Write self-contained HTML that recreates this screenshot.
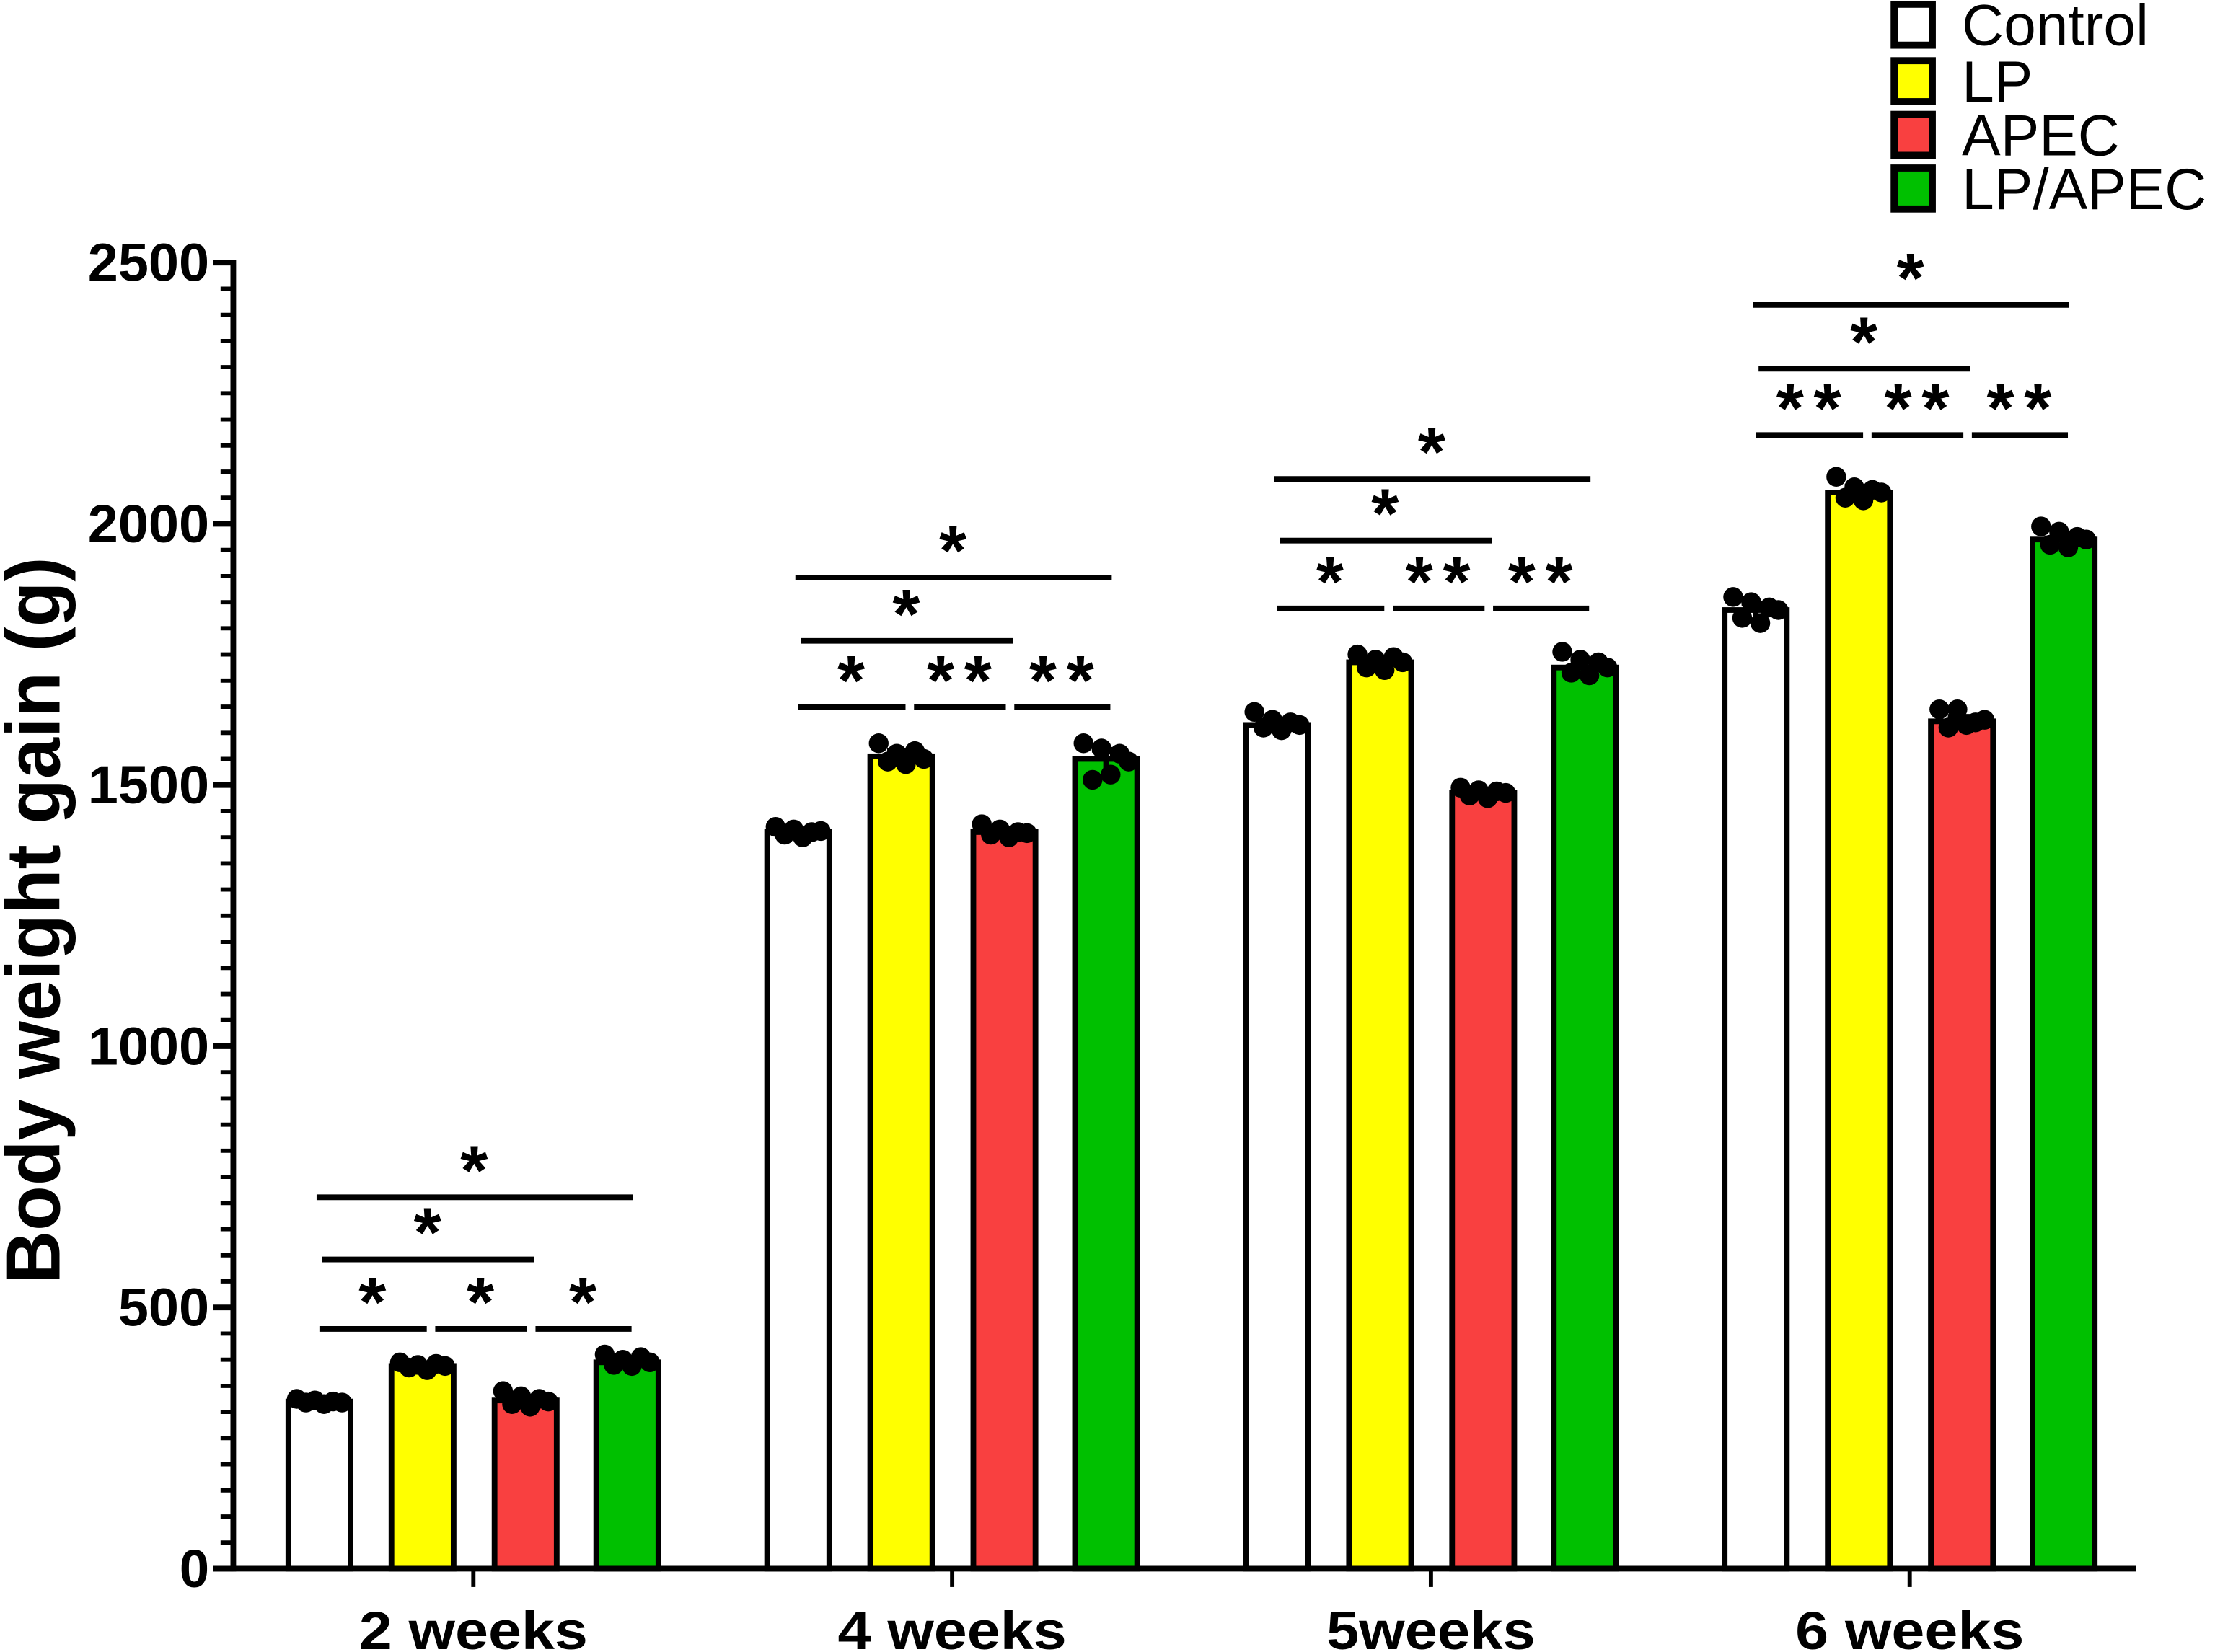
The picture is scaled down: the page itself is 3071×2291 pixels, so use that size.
<!DOCTYPE html>
<html><head><meta charset="utf-8"><style>
html,body{margin:0;padding:0;background:#fff;}
svg{display:block;}
text{font-family:"Liberation Sans",sans-serif;}
</style></head><body>
<svg id="chart" width="3071" height="2291" viewBox="0 0 1568 1170" xmlns="http://www.w3.org/2000/svg"></svg>
<script>
const categories = ["2 weeks","4 weeks","5weeks","6 weeks"];
const seriesNames = ["Control","LP","APEC","LP/APEC"];
const seriesColors = ["#ffffff","#ffff00","#f94040","#00c000"];
const controlVals = [320, 1410, 1615, 1835];
const lpVals = [388, 1555, 1735, 2060];
const apecVals = [322, 1410, 1485, 1622];
const lpapecVals = [395, 1550, 1725, 1970];
const controlPts = [[325,318,322,315,320,318],[1420,1405,1415,1400,1410,1412],[1640,1610,1625,1605,1620,1615],[1860,1820,1850,1810,1840,1835]];
const lpPts = [[395,385,390,380,392,388],[1580,1545,1560,1540,1565,1550],[1750,1725,1740,1720,1745,1735],[2090,2050,2070,2045,2065,2060]];
const apecPts = [[340,315,330,310,325,320],[1425,1405,1415,1400,1410,1408],[1495,1480,1490,1475,1488,1485],[1645,1610,1645,1615,1620,1625]];
const lpapecPts = [[410,390,400,388,405,395],[1580,1510,1570,1520,1560,1545],[1755,1715,1740,1710,1735,1725],[1995,1960,1985,1955,1975,1970]];
const yTicks = [0,500,1000,1500,2000,2500];
const sigLabels = [["*","*","*","*","*"],["*","**","**","*","*"],["*","**","**","*","*"],["**","**","**","*","*"]];
const sigLevels = [[459,592,711],[1649,1776,1897],[1838,1968,2086],[2170,2297,2419]];

const NS="http://www.w3.org/2000/svg";
const svg=document.getElementById('chart');
const X0=165, X1=1512, Y0=1111, YT=186, VMAX=2500;
const y=v=>Y0-v*(Y0-YT)/VMAX;
const groupX=i=>335+i*339;
const barOff=[-109,-36,37,109];
const BW=44;
function el(tag,attrs,parent){const e=document.createElementNS(NS,tag);for(const k in attrs)e.setAttribute(k,attrs[k]);(parent||svg).appendChild(e);return e;}
const allVals=[controlVals,lpVals,apecVals,lpapecVals];
const allPts=[controlPts,lpPts,apecPts,lpapecPts];

categories.forEach((c,gi)=>{
  allVals.forEach((vals,si)=>{
    const cx=groupX(gi)+barOff[si];
    const b=el('rect',{x:cx-BW/2,y:y(vals[gi]),width:BW,height:Y0-y(vals[gi]),fill:seriesColors[si],stroke:'#000','stroke-width':4});
    
    
    const pts=allPts[si][gi];
    const sd=(Math.max(...pts)-Math.min(...pts))/4;
    const eb=el('path',{d:`M${cx} ${y(vals[gi]+sd)}V${y(vals[gi]-sd)}M${cx-10} ${y(vals[gi]+sd)}H${cx+10}`,stroke:'#000','stroke-width':4,fill:'none'});
    
    
    pts.forEach((p,pi)=>{
      const d=el('circle',{cx:cx-16+pi*6.4,cy:y(p),r:7,fill:'#000'});
      
      
    });
  });
});

const ya=el('path',{d:`M${X0} ${YT-2}V${Y0+2}`,stroke:'#000','stroke-width':4});


const xa=el('path',{d:`M${X0-14} ${Y0}H${X1}`,stroke:'#000','stroke-width':4});


for(let v=0;v<=VMAX;v+=50){
  const major=v%500===0;
  const t=el('path',{d:`M${major?X0-14:X0-9} ${y(v)}H${X0}`,stroke:'#000','stroke-width':major?4:3});
  
  
}
yTicks.forEach(v=>{
  const t=el('text',{x:148,y:y(v)+13,'text-anchor':'end','font-size':38,'font-weight':'bold'});
  if(v>0){t.setAttribute('textLength',String(v).length*21.5);t.setAttribute('lengthAdjust','spacingAndGlyphs');}
  t.textContent=v;
  
  
});
categories.forEach((c,gi)=>{
  const t=el('path',{d:`M${groupX(gi)} ${Y0}V${Y0+13}`,stroke:'#000','stroke-width':3});
  
  
  const l=el('text',{x:groupX(gi),y:1168,'text-anchor':'middle','font-size':38,'font-weight':'bold',textLength:c==='5weeks'?148:162,lengthAdjust:'spacingAndGlyphs'});
  l.textContent=c;
  
  
});
const yt=el('text',{x:0,y:0,transform:'translate(42 652) rotate(-90)','text-anchor':'middle','font-size':54,'font-weight':'bold',textLength:515,lengthAdjust:'spacingAndGlyphs'});
yt.textContent='Body weight gain (g)';



categories.forEach((c,gi)=>{
  const g=groupX(gi);
  const L=sigLevels[gi];
  const segs=[[barOff[0],barOff[1]+3,0],[barOff[1]+9,barOff[2]+1,0],[barOff[2]+7,barOff[3]+3,0],[barOff[0]+2,barOff[2]+6,1],[barOff[0]-2,barOff[3]+4,2]];
  segs.forEach((s,k)=>{
    const ly=y(L[s[2]]);
    const ln=el('path',{d:`M${g+s[0]} ${ly}H${g+s[1]}`,stroke:'#000','stroke-width':4});
    
    
    const st=el('text',{x:g+(s[0]+s[1])/2+3,y:ly-2,'text-anchor':'middle','font-size':50,'font-weight':'bold','letter-spacing':7});
    st.textContent=sigLabels[gi][k];
    
    
  });
});

const legY=[18,58,96,134];
seriesNames.forEach((n,i)=>{
  const r=el('rect',{x:1341,y:legY[i]-15,width:27,height:29,fill:seriesColors[i],stroke:'#000','stroke-width':5});
  
  
  const t=el('text',{x:1389,y:legY[i]+14,'font-size':41});
  t.textContent=n;
  
  
});
</script>
</body></html>
